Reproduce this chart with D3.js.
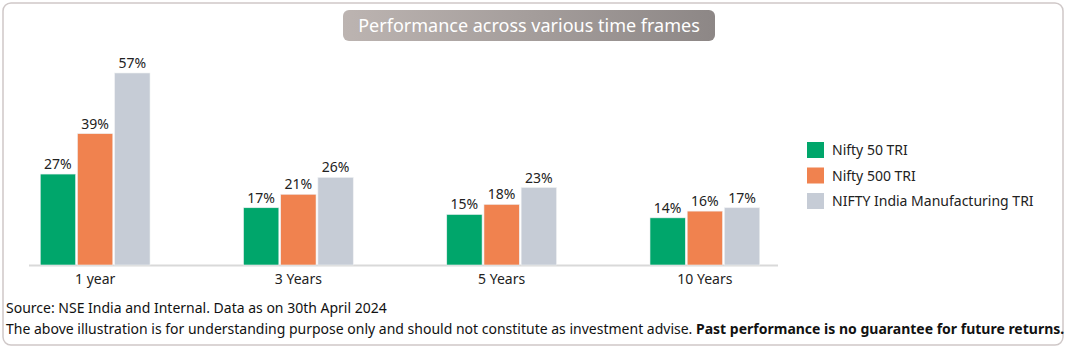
<!DOCTYPE html>
<html>
<head>
<meta charset="utf-8">
<script src="https://cdn.jsdelivr.net/npm/d3@7"></script>
<style>
  body { margin: 0; background: #fff; }
  svg text { font-family: "Noto Sans", sans-serif; }
</style>
</head>
<body>
<div id="chart"></div>
<script>
// chart data
var periods = ["1 year", "3 Years", "5 Years", "10 Years"];
var seriesNames = ["Nifty 50 TRI", "Nifty 500 TRI", "NIFTY India Manufacturing TRI"];
var nifty50 = [27, 17, 15, 14];
var nifty500 = [39, 21, 18, 16];
var niftyMfg = [57, 26, 23, 17];
var colors = ["#00a66b", "#f0824f", "#c6ccd6"];

var seriesValues = [nifty50, nifty500, niftyMfg];
var rows = periods.map(function (p, i) {
  return { period: p, values: seriesValues.map(function (s, j) { return { key: seriesNames[j], idx: j, value: s[i] }; }) };
});

var W = 1067, H = 351;
var svg = d3.select("#chart").append("svg")
  .attr("width", W)
  .attr("height", H);

// outer frame
svg.append("rect")
  .attr("x", 3).attr("y", 3)
  .attr("width", 1060).attr("height", 342)
  .attr("rx", 8)
  .attr("fill", "#fff")
  .attr("stroke", "#cfc8c8")
  .attr("stroke-width", 1.5);

// title pill
var grad = svg.append("defs").append("linearGradient")
  .attr("id", "titleGrad")
  .attr("x1", "0%").attr("x2", "100%");
grad.append("stop").attr("offset", "0%").attr("stop-color", "#bcb4b1");
grad.append("stop").attr("offset", "100%").attr("stop-color", "#8d8786");

svg.append("rect")
  .attr("x", 343).attr("y", 10)
  .attr("width", 372).attr("height", 31)
  .attr("rx", 6)
  .attr("fill", "url(#titleGrad)");

svg.append("text")
  .attr("x", 529).attr("y", 32)
  .attr("fill", "#fff")
  .style("font-size", "18px")
  .style("text-anchor", "middle")
  .text("Performance across various time frames");

var baseY = 265;

var x0 = d3.scaleBand()
  .domain(periods)
  .range([24, 776])
  .paddingInner(0.46)
  .paddingOuter(0.08);

var x1 = d3.scaleBand()
  .domain(seriesNames)
  .range([0, x0.bandwidth()])
  .paddingInner(0.05);

var y = d3.scaleLinear()
  .domain([0, 57])
  .range([baseY, 73]);

// baseline
svg.append("line")
  .attr("x1", 29).attr("x2", 778)
  .attr("y1", baseY + 0.5).attr("y2", baseY + 0.5)
  .attr("stroke", "#d9d9d9")
  .attr("stroke-width", 2);

var groups = svg.selectAll(".grp")
  .data(rows)
  .enter()
  .append("g")
  .attr("class", "grp")
  .attr("transform", function (d) { return "translate(" + x0(d.period) + ",0)"; });

groups.selectAll("rect")
  .data(function (d) { return d.values; })
  .enter()
  .append("rect")
  .attr("x", function (d) { return x1(d.key); })
  .attr("y", function (d) { return y(d.value); })
  .attr("width", x1.bandwidth())
  .attr("height", function (d) { return baseY - y(d.value); })
  .attr("fill", function (d) { return colors[d.idx]; })
  .attr("stroke", "#eef0f2")
  .attr("stroke-width", 0.6);

groups.selectAll(".lbl")
  .data(function (d) { return d.values; })
  .enter()
  .append("text")
  .attr("class", "lbl")
  .attr("x", function (d) { return x1(d.key) + x1.bandwidth() / 2; })
  .attr("y", function (d) { return y(d.value) - 5; })
  .attr("fill", "#222")
  .style("font-size", "14px")
  .style("text-anchor", "middle")
  .text(function (d) { return d.value + "%"; });

// category axis labels
svg.append("g")
  .attr("transform", "translate(0," + baseY + ")")
  .call(d3.axisBottom(x0).tickSize(0).tickPadding(9))
  .call(function (g) { g.select(".domain").remove(); })
  .selectAll("text")
  .attr("fill", "#222")
  .style("font-family", "Noto Sans, sans-serif")
  .style("font-size", "14px");

// legend
var legend = svg.selectAll(".leg")
  .data(seriesNames)
  .enter()
  .append("g")
  .attr("class", "leg")
  .attr("transform", function (d, i) { return "translate(807," + (142 + i * 25.5) + ")"; });

legend.append("rect")
  .attr("width", 17).attr("height", 16)
  .attr("fill", function (d, i) { return colors[i]; });

legend.append("text")
  .attr("x", 25).attr("y", 13)
  .attr("fill", "#222")
  .style("font-size", "14px")
  .text(function (d) { return d; });

// footnotes
svg.append("text")
  .attr("x", 6).attr("y", 313)
  .attr("fill", "#111")
  .style("font-size", "14px")
  .text("Source: NSE India and Internal. Data as on 30th April 2024");

var note = svg.append("text")
  .attr("x", 6).attr("y", 334)
  .attr("fill", "#111")
  .style("font-size", "14px");
note.append("tspan")
  .text("The above illustration is for understanding purpose only and should not constitute as investment advise. ");
note.append("tspan")
  .attr("font-weight", "bold")
  .text("Past performance is no guarantee for future returns.");
</script>
</body>
</html>
